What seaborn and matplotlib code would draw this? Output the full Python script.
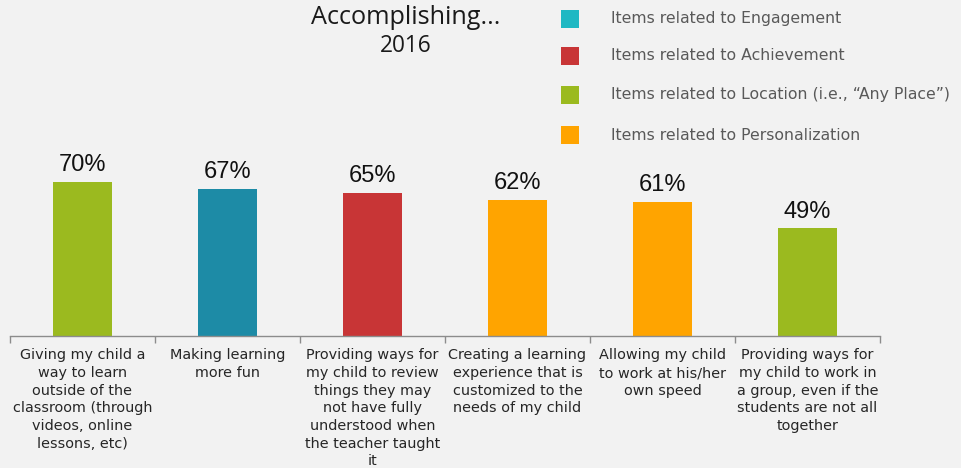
import matplotlib
matplotlib.use("Agg")
import matplotlib.pyplot as plt
from matplotlib.patches import Rectangle
from matplotlib.ticker import FixedLocator
import seaborn as sns
import pandas as pd

# Survey items (x-axis labels, wrapped as displayed)
categories = [
    "Giving my child a\nway to learn\noutside of the\nclassroom (through\nvideos, online\nlessons, etc)",
    "Making learning\nmore fun",
    "Providing ways for\nmy child to review\nthings they may\nnot have fully\nunderstood when\nthe teacher taught\nit",
    "Creating a learning\nexperience that is\ncustomized to the\nneeds of my child",
    "Allowing my child\nto work at his/her\nown speed",
    "Providing ways for\nmy child to work in\na group, even if the\nstudents are not all\ntogether",
]
values = [70, 67, 65, 62, 61, 49]
groups = ["Location", "Engagement", "Achievement", "Personalization", "Personalization", "Location"]

legend_labels = [
    "Items related to Engagement",
    "Items related to Achievement",
    "Items related to Location (i.e., \u201cAny Place\u201d)",
    "Items related to Personalization",
]
bar_colors = {"Engagement": "#1D8BA6", "Achievement": "#C83536",
              "Location": "#9BBA1F", "Personalization": "#FFA400"}
legend_colors = ["#1FB8C3", "#C83536", "#9BBA1F", "#FFA400"]

title_line = "Accomplishing..."
subtitle = "2016"

df = pd.DataFrame({"item": categories, "pct": values, "group": groups})

sns.set_theme(style="white")
bg = "#F2F2F2"
fig = plt.figure(figsize=(9.62, 4.68), dpi=100, facecolor=bg)
W, H = 962, 468
ax = fig.add_axes([10 / W, (H - 336) / H, 870 / W, 220 / H], facecolor=bg)

sns.barplot(data=df, x="item", y="pct", hue="group", palette=bar_colors,
            dodge=False, width=0.41, legend=False, ax=ax, saturation=1,
            linewidth=0, edgecolor="none")

ax.set_xlim(-0.5, len(categories) - 0.5)
ax.set_ylim(0, 100)
ax.set_xlabel("")
ax.set_ylabel("")
ax.set_yticks([])
for s in ["left", "top", "right"]:
    ax.spines[s].set_visible(False)
ax.spines["bottom"].set_color("#8C8C8C")
ax.spines["bottom"].set_linewidth(1.0)

ax.set_xticks(range(len(categories)))
ax.set_xticklabels(categories, fontsize=10.4, family="DejaVu Sans",
                   color="#262626", linespacing=1.33)
ax.tick_params(axis="x", which="major", length=0, pad=9)
ax.xaxis.set_minor_locator(FixedLocator([i - 0.5 for i in range(len(categories) + 1)]))
ax.tick_params(axis="x", which="minor", length=5, width=1, color="#8C8C8C",
               direction="out", bottom=True)

for i, v in enumerate(values):
    ax.annotate(f"{v}%", (i, v), xytext=(0, 4), textcoords="offset points",
                ha="center", va="bottom", fontsize=17,
                family="Liberation Sans", color="#111111")

# Title
fig.text(406 / W, 1 - 18 / H, title_line, ha="center", va="center",
         fontsize=18.2, family="Open Sans", color="#1A1A1A")
fig.text(406 / W, 1 - 46 / H, subtitle, ha="center", va="center",
         fontsize=16.3, family="Open Sans", color="#1A1A1A")

# Legend
ys = [19, 56, 95, 135]
for y, lab, col in zip(ys, legend_labels, legend_colors):
    fig.patches.append(Rectangle((561 / W, 1 - (y + 9) / H), 18 / W, 18 / H,
                                 transform=fig.transFigure, facecolor=col,
                                 edgecolor="none"))
    fig.text(611 / W, 1 - y / H, lab, ha="left", va="center",
             fontsize=11.3, family="DejaVu Sans", color="#595959")

fig.savefig("out.png", dpi=100, facecolor=bg)
